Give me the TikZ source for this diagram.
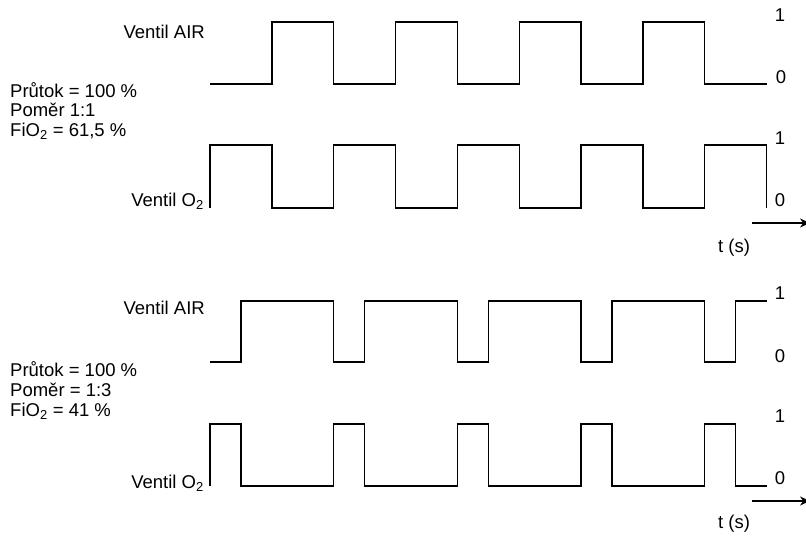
\documentclass[tikz,border=0pt]{standalone}
\usepackage{fontspec}
\setmainfont{Liberation Sans}
\usetikzlibrary{arrows.meta}
\begin{document}
\begin{tikzpicture}[x=1pt,y=-1pt,
  wave/.style={line width=1.3pt, line join=miter},
  lbl/.style={inner sep=0pt, font=\fontsize{18.5}{22}\selectfont},
  axarrow/.style={line width=1.3pt, -{Stealth[length=10pt,width=9pt]}}]
\useasboundingbox (0,0) rectangle (806,537);
% ---------- top: ratio 1:1 ----------
\draw[wave] (210,84)--(271.85,84)--(271.85,22)--(333.7,22)--(333.7,84)--(395.55,84)--(395.55,22)--(457.4,22)--(457.4,84)--(519.25,84)--(519.25,22)--(581.1,22)--(581.1,84)--(642.95,84)--(642.95,22)--(704.8,22)--(704.8,84)--(766.65,84);
\draw[wave] (210,208)--(210,145)--(271.85,145)--(271.85,208)--(333.7,208)--(333.7,145)--(395.55,145)--(395.55,208)--(457.4,208)--(457.4,145)--(519.25,145)--(519.25,208)--(581.1,208)--(581.1,145)--(642.95,145)--(642.95,208)--(704.8,208)--(704.8,145)--(766.65,145)--(766.65,208);
\node[lbl, anchor=base east] (airA) at (205,38.5) {Ventil AIR};
\node[lbl, anchor=base west] (flowA) at (10,97.5) {Průtok = 100 \%};
\node[lbl, anchor=base west] (ratioA) at (10,117) {Poměr 1:1};
\node[lbl, anchor=base west] (fioA) at (10,136.5) {FiO\textsubscript{2} = 61,5 \%};
\node[lbl, anchor=base east] (o2A) at (204,206.5) {Ventil O\textsubscript{2}};
\node[lbl] (oneA1) at (780,15) {1};
\node[lbl] (zeroA1) at (781,77) {0};
\node[lbl] (oneA2) at (780,138) {1};
\node[lbl] (zeroA2) at (780,200) {0};
\coordinate (tA0) at (752,223);
\coordinate (tA1) at (810,223);
\draw[axarrow] (tA0) -- (tA1);
\node[lbl] (tA) at (734,248) {t (s)};
% ---------- bottom: ratio 1:3 ----------
\draw[wave] (210,362)--(240.9,362)--(240.9,301)--(333.7,301)--(333.7,362)--(364.6,362)--(364.6,301)--(457.4,301)--(457.4,362)--(488.3,362)--(488.3,301)--(581.1,301)--(581.1,362)--(612,362)--(612,301)--(704.8,301)--(704.8,362)--(735.7,362)--(735.7,301)--(766.65,301);
\draw[wave] (210,486)--(210,424)--(240.9,424)--(240.9,486)--(333.7,486)--(333.7,424)--(364.6,424)--(364.6,486)--(457.4,486)--(457.4,424)--(488.3,424)--(488.3,486)--(581.1,486)--(581.1,424)--(612,424)--(612,486)--(704.8,486)--(704.8,424)--(735.7,424)--(735.7,486)--(766.65,486);
\node[lbl, anchor=base east] (airB) at (205,314.5) {Ventil AIR};
\node[lbl, anchor=base west] (flowB) at (10,377) {Průtok = 100 \%};
\node[lbl, anchor=base west] (ratioB) at (10,396.5) {Poměr = 1:3};
\node[lbl, anchor=base west] (fioB) at (10,416) {FiO\textsubscript{2} = 41 \%};
\node[lbl, anchor=base east] (o2B) at (204,488.5) {Ventil O\textsubscript{2}};
\node[lbl] (oneB1) at (780,293) {1};
\node[lbl] (zeroB1) at (780,356) {0};
\node[lbl] (oneB2) at (780,416) {1};
\node[lbl] (zeroB2) at (780,478) {0};
\coordinate (tB0) at (752,501);
\coordinate (tB1) at (810,501);
\draw[axarrow] (tB0) -- (tB1);
\node[lbl] (tB) at (734,524) {t (s)};
\end{tikzpicture}
\end{document}
